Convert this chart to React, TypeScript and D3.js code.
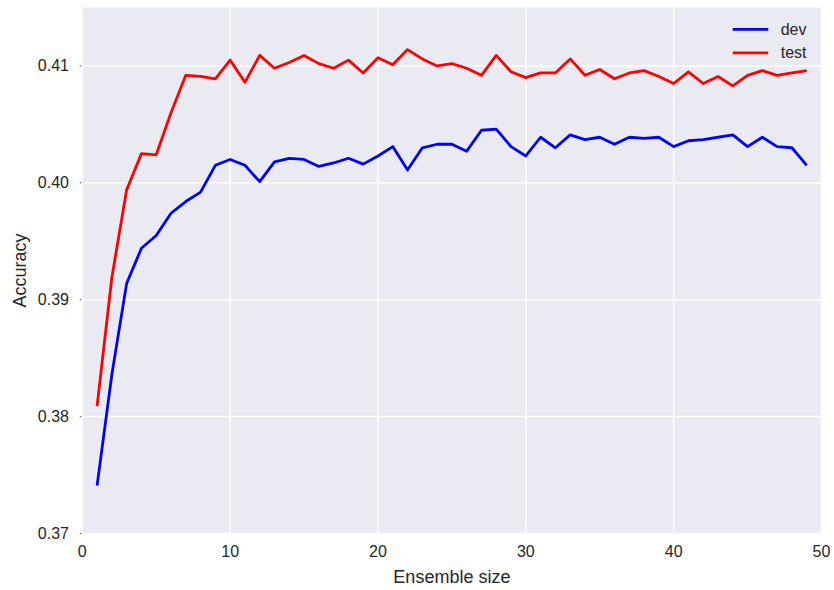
import React, { useEffect, useRef } from "react";
import * as d3 from "d3";

const sizes = d3.range(1, 50);

const devAcc = [
  0.3741, 0.3836, 0.3914, 0.3944, 0.3955, 0.3974, 0.3984, 0.3992, 0.4015, 0.402,
  0.4015, 0.4001, 0.4018, 0.4021, 0.402, 0.4014, 0.4017, 0.4021, 0.4016, 0.4023,
  0.4031, 0.4011, 0.403, 0.4033, 0.4033, 0.4027, 0.4045, 0.4046, 0.4031, 0.4023,
  0.4039, 0.403, 0.4041, 0.4037, 0.4039, 0.4033, 0.4039, 0.4038, 0.4039, 0.4031,
  0.4036, 0.4037, 0.4039, 0.4041, 0.4031, 0.4039, 0.4031, 0.403, 0.4015,
];

const testAcc = [
  0.3809, 0.3919, 0.3994, 0.4025, 0.4024, 0.406, 0.4092, 0.4091, 0.4089, 0.4105,
  0.4086, 0.4109, 0.4098, 0.4103, 0.4109, 0.4102, 0.4098, 0.4105, 0.4094, 0.4107,
  0.4101, 0.4114, 0.4106, 0.41, 0.4102, 0.4098, 0.4092, 0.4109, 0.4095, 0.409,
  0.4094, 0.4094, 0.4106, 0.4092, 0.4097, 0.4089, 0.4094, 0.4096, 0.4091, 0.4085,
  0.4095, 0.4085, 0.4091, 0.4083, 0.4092, 0.4096, 0.4092, 0.4094, 0.4096,
];

const xTicks = [0, 10, 20, 30, 40, 50];
const yTicks = [0.37, 0.38, 0.39, 0.4, 0.41];

const series = [
  { name: "dev", values: devAcc, color: "#0000ff" },
  { name: "test", values: testAcc, color: "#ff0000" },
];

const App = () => {
  const svgRef = useRef<SVGSVGElement>(null);

  useEffect(() => {
    const W = 834,
      H = 590;
    const right = 821.5,
      top = 7.5,
      bottom = 533.5;
    const svg = d3.select(svgRef.current).attr("width", W).attr("height", H);
    svg.selectAll("*").remove();

    const g = svg.append("g");

    const x = d3.scaleLinear().domain([0, 50]).range([82.3, right]);
    const y = d3.scaleLinear().domain([0.37, 0.415]).range([bottom, top]);

    // background
    g.append("rect")
      .attr("x", x(0))
      .attr("y", top)
      .attr("width", x(50) - x(0))
      .attr("height", bottom - top)
      .attr("fill", "#eaeaf2");

    // grid
    g.selectAll(".vgrid")
      .data(xTicks)
      .join("line")
      .attr("x1", (d) => x(d))
      .attr("x2", (d) => x(d))
      .attr("y1", top)
      .attr("y2", bottom)
      .attr("stroke", "#fff")
      .attr("stroke-width", 1.5);

    g.selectAll(".hgrid")
      .data(yTicks)
      .join("line")
      .attr("x1", x(0))
      .attr("x2", x(50))
      .attr("y1", (d) => y(d))
      .attr("y2", (d) => y(d))
      .attr("stroke", "#fff")
      .attr("stroke-width", 1.5);

    const font = "'Liberation Sans', Arial, sans-serif";

    // tick labels
    g.selectAll(".ytl")
      .data(yTicks)
      .join("text")
      .attr("x", 69)
      .attr("y", (d) => y(d) + 5.5)
      .attr("text-anchor", "end")
      .attr("font-family", font)
      .attr("font-size", 16)
      .attr("fill", "#262626")
      .text((d) => d3.format(".2f")(d));

    g.selectAll(".xtl")
      .data(xTicks)
      .join("text")
      .attr("x", (d) => x(d))
      .attr("y", 557)
      .attr("text-anchor", "middle")
      .attr("font-family", font)
      .attr("font-size", 16)
      .attr("fill", "#262626")
      .text((d) => d);

    // tiny tick marks
    g.selectAll(".ytk")
      .data(yTicks)
      .join("line")
      .attr("x1", x(0) - 2.5)
      .attr("x2", x(0) - 1)
      .attr("y1", (d) => y(d))
      .attr("y2", (d) => y(d))
      .attr("stroke", "#555")
      .attr("stroke-width", 1);

    // axis labels
    g.append("text")
      .attr("x", (x(0) + x(50)) / 2)
      .attr("y", 583)
      .attr("text-anchor", "middle")
      .attr("font-family", font)
      .attr("font-size", 18)
      .attr("fill", "#262626")
      .text("Ensemble size");

    g.append("text")
      .attr("transform", `translate(26,${(top + bottom) / 2}) rotate(-90)`)
      .attr("text-anchor", "middle")
      .attr("font-family", font)
      .attr("font-size", 18)
      .attr("fill", "#262626")
      .text("Accuracy");

    // lines
    const line = d3
      .line<number>()
      .x((_, i) => x(sizes[i]))
      .y((d) => y(d));

    series.forEach((s) => {
      g.append("path")
        .datum(s.values)
        .attr("d", line)
        .attr("fill", "none")
        .attr("stroke", s.color)
        .attr("stroke-width", 2.8)
        .attr("stroke-linejoin", "round");
    });

    // legend
    const lg = g.append("g");
    series.forEach((s, i) => {
      const ly = 29.3 + i * 23.5;
      lg.append("line")
        .attr("x1", 732.7)
        .attr("x2", 768.3)
        .attr("y1", ly)
        .attr("y2", ly)
        .attr("stroke", s.color)
        .attr("stroke-width", 2.8);
      lg.append("text")
        .attr("x", 780.7)
        .attr("y", ly + 5.5)
        .attr("font-family", font)
        .attr("font-size", 16)
        .attr("fill", "#262626")
        .text(s.name);
    });
  }, []);

  return (
    <svg
      ref={svgRef}
      style={{ position: "absolute", left: 0, top: 0, display: "block" }}
    ></svg>
  );
};

export default App;
